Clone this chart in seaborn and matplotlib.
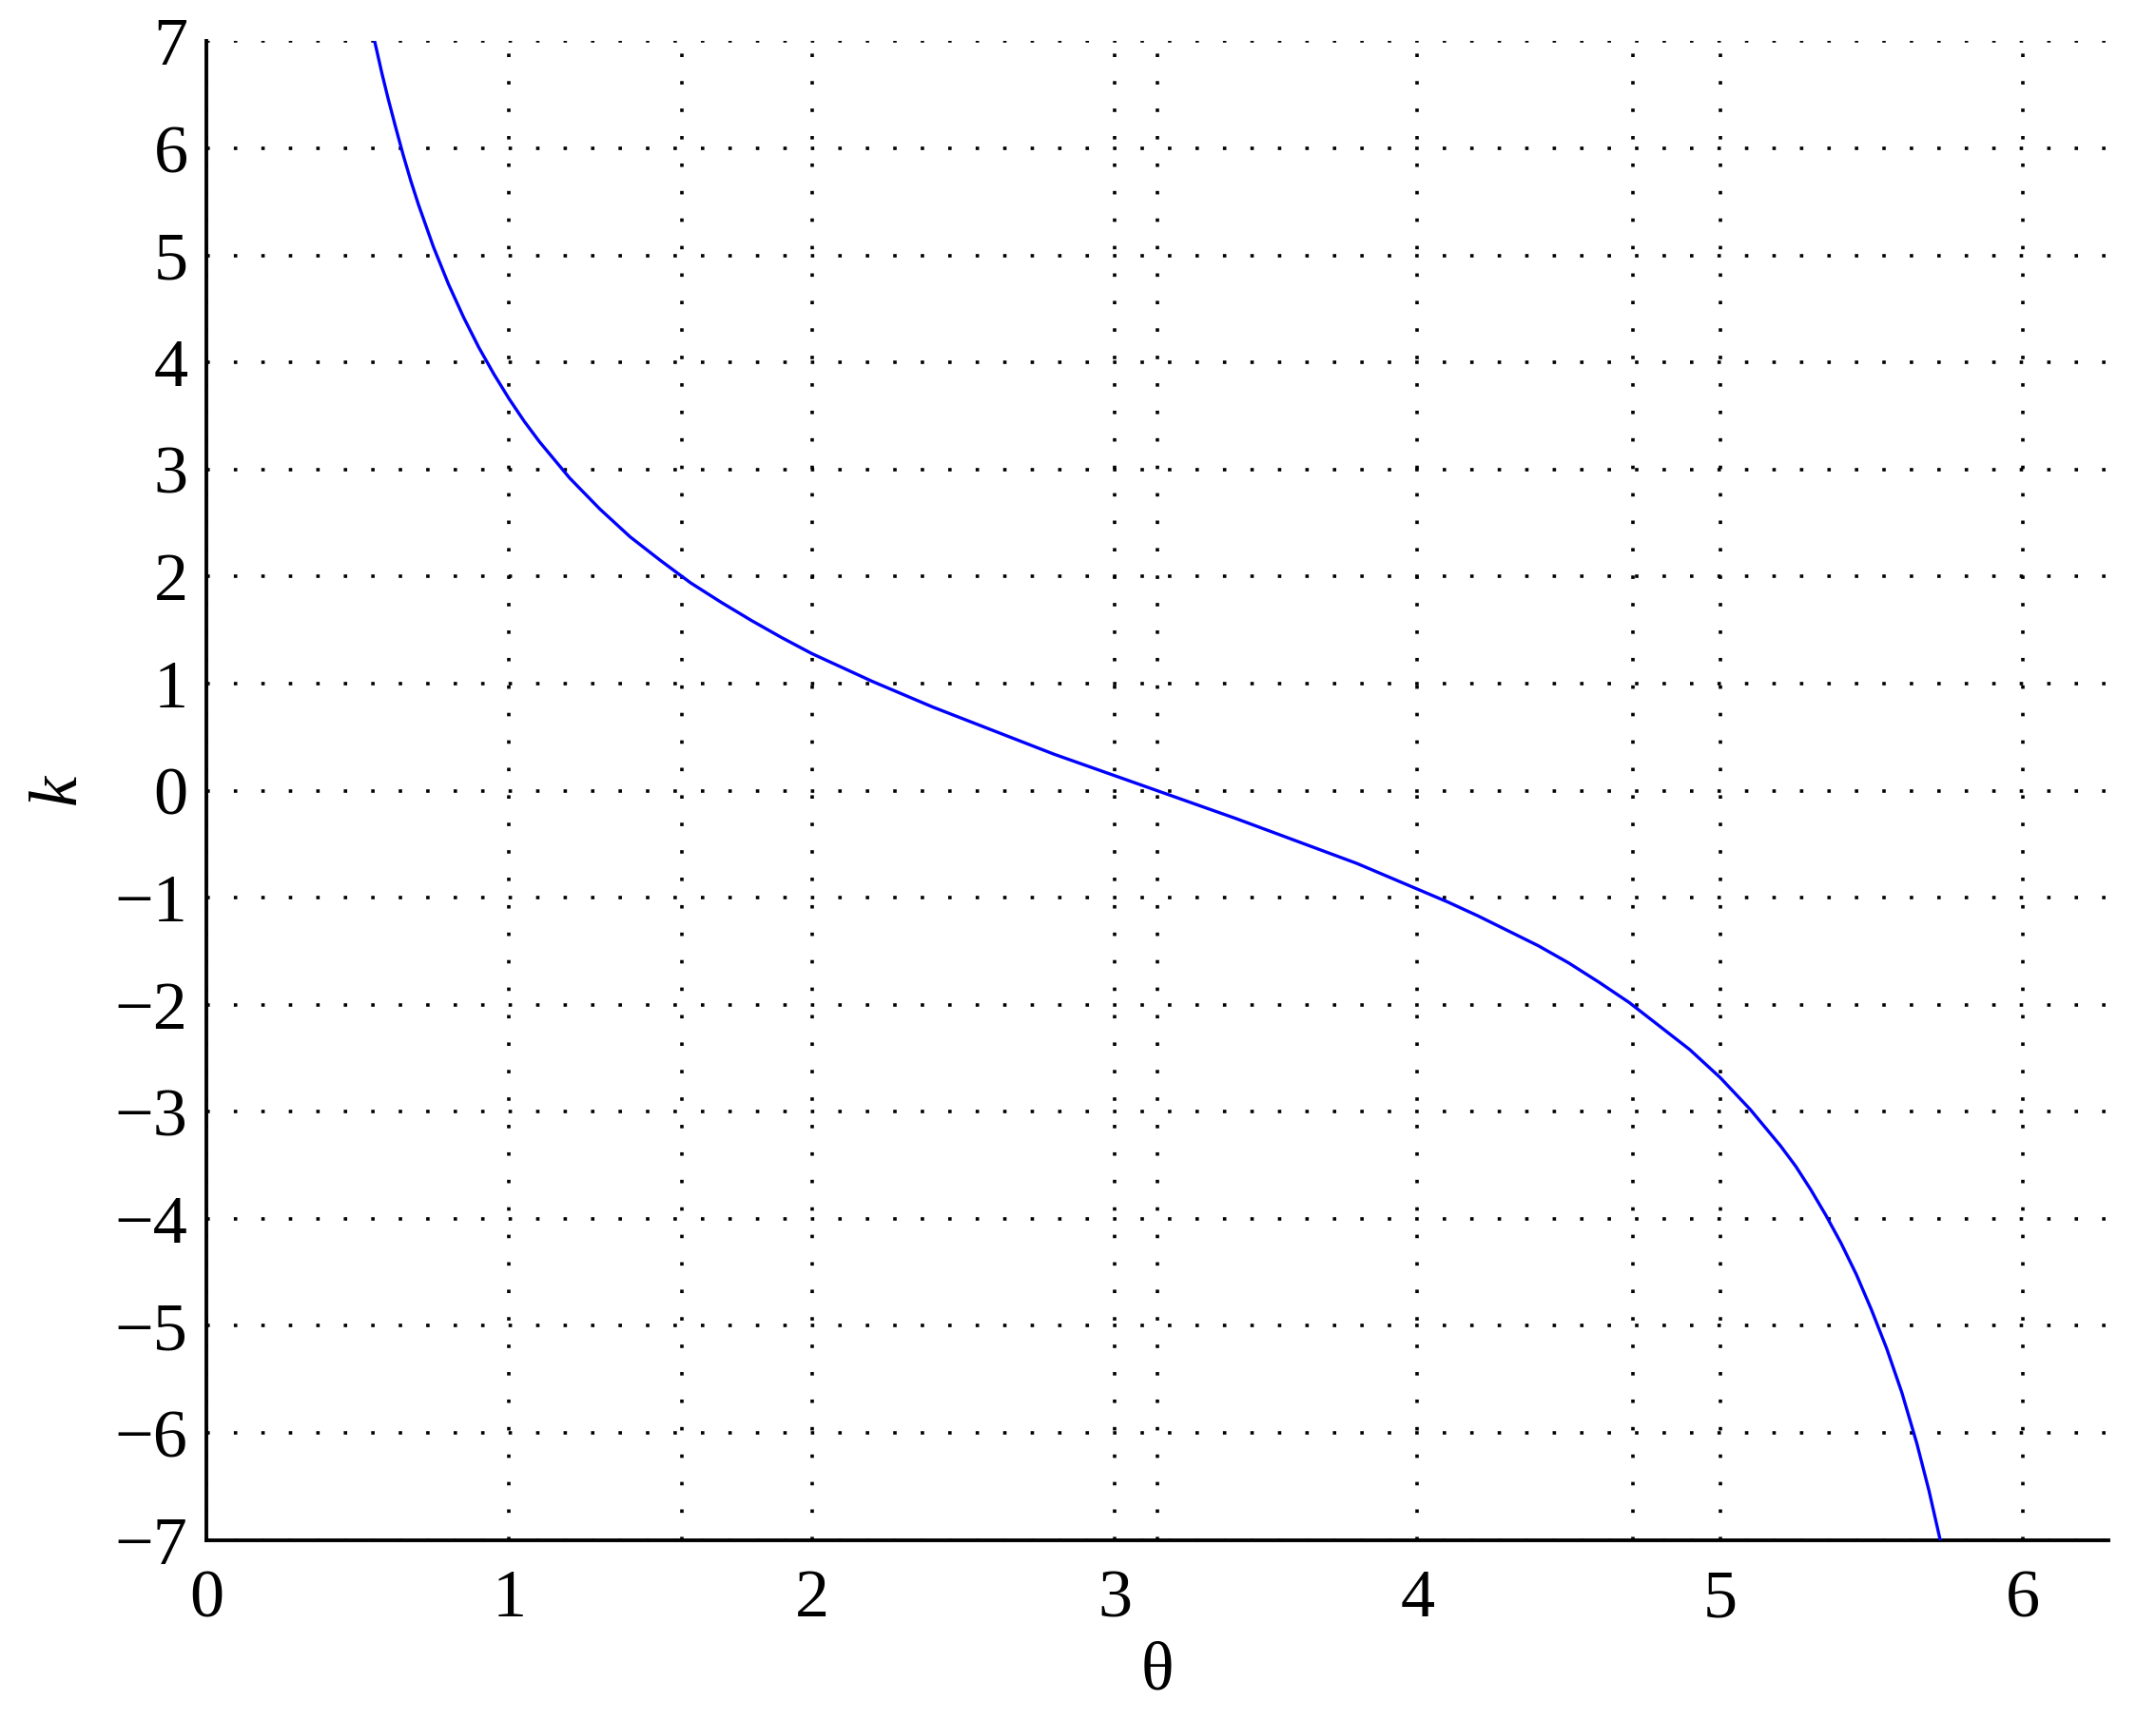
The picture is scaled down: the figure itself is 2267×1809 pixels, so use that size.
import numpy as np
import matplotlib
matplotlib.use("Agg")
import matplotlib.pyplot as plt
import seaborn as sns

# values: theta (rad) and k
theta = [0.556, 0.58, 0.60, 0.625, 0.65, 0.675, 0.70, 0.75, 0.80, 0.85,
         0.90, 0.95, 1.00, 1.05, 1.10, 1.20, 1.30, 1.40, 1.50, 1.60,
         1.70, 1.80, 1.90, 2.00, 2.20, 2.40, 2.60, 2.80, 3.00, 3.20,
         3.40, 3.60, 3.80, 4.00, 4.10, 4.20, 4.30, 4.40, 4.50, 4.60,
         4.70, 4.80, 4.90, 5.00, 5.10, 5.20, 5.25, 5.30, 5.35, 5.40,
         5.45, 5.50, 5.55, 5.60, 5.65, 5.69, 5.727]
k = [7.00, 6.70, 6.47, 6.20, 5.94, 5.70, 5.48, 5.08, 4.73, 4.42,
     4.14, 3.89, 3.66, 3.45, 3.26, 2.92, 2.63, 2.37, 2.15, 1.94,
     1.76, 1.59, 1.43, 1.28, 1.02, 0.78, 0.56, 0.34, 0.14, -0.06,
     -0.26, -0.47, -0.68, -0.92, -1.04, -1.17, -1.31, -1.45, -1.61, -1.79,
     -1.98, -2.20, -2.42, -2.68, -2.98, -3.32, -3.51, -3.73, -3.97, -4.23,
     -4.52, -4.85, -5.21, -5.62, -6.10, -6.54, -7.00]

x_ticks = [0, 1, 2, 3, 4, 5, 6]
y_ticks = list(range(-7, 8))
ref_theta = [np.pi / 2, np.pi, 3 * np.pi / 2]   # extra vertical guide lines

sns.set_theme(style="white")
plt.rcParams.update({
    "font.family": ["Liberation Serif", "DejaVu Serif"],
    "mathtext.fontset": "custom",
    "mathtext.rm": "Liberation Serif",
    "mathtext.it": "Liberation Serif:italic",
    "axes.unicode_minus": True,
    "text.color": "black",
    "axes.labelcolor": "black",
})

fig = plt.figure(figsize=(11.335, 9.045), dpi=200)
ax = fig.add_axes([0.0957, 0.1047, 0.8823, 0.8713])

dots = (0, (1, 7))
for yt in y_ticks:
    ax.axhline(yt, color="black", lw=1.3, linestyle=dots, zorder=1)
for xt in x_ticks + ref_theta:
    ax.axvline(xt, color="black", lw=1.3, linestyle=dots, zorder=1)

sns.lineplot(x=theta, y=k, color="#0000ff", linewidth=1.2, sort=False,
             ax=ax, zorder=3)

ax.set_xlim(0, 2 * np.pi)
ax.set_ylim(-7, 7)
ax.set_xticks(x_ticks)
ax.set_yticks(y_ticks)
ax.tick_params(axis="both", direction="in", length=7, width=1.2,
               labelsize=26, colors="black")
ax.tick_params(axis="x", pad=11)
ax.tick_params(axis="y", pad=7)

sns.despine(ax=ax, top=True, right=True)
for side in ("left", "bottom"):
    ax.spines[side].set_linewidth(1.4)
    ax.spines[side].set_color("black")

ax.set_xlabel("θ", fontsize=26, labelpad=4)
ax.set_ylabel("$k$", fontsize=26, labelpad=9)

fig.savefig("out.png", dpi=200, facecolor="white")
